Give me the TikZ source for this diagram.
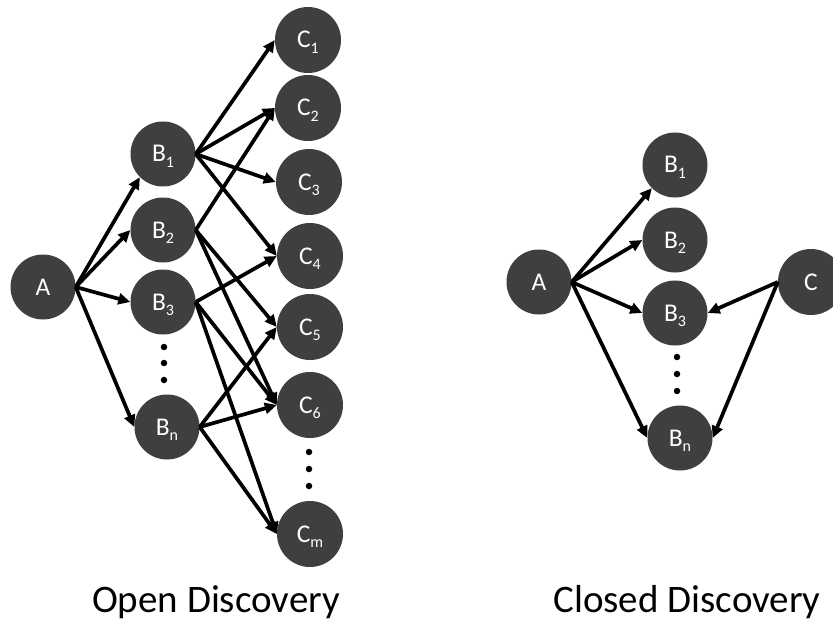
\documentclass[tikz,border=0pt]{standalone}
\usepackage{fontspec}
\setmainfont{Carlito}
\usetikzlibrary{arrows.meta}
\definecolor{nodegray}{HTML}{3F3F3F}
\newcommand{\lowsub}[1]{\raisebox{-5.5pt}{\fontsize{16}{16}\selectfont #1}}
\begin{document}
\begin{tikzpicture}[x=1pt,y=-1pt,
  vtx/.style={circle, fill=nodegray, draw=none, minimum size=65pt, inner sep=0pt,
    text=white, font=\fontsize{25.5}{30}\selectfont, text height=16pt, text depth=0pt},
  cvtx/.style={vtx, minimum size=66pt},
  arr/.style={line width=3.7pt, -{Triangle[length=12pt,width=11pt]}},
  dotmark/.style={circle, fill=black, minimum size=6.5pt, inner sep=0pt},
  title/.style={font=\fontsize{39}{44}\selectfont, anchor=base, inner sep=0pt}]
\useasboundingbox (0,0) rectangle (833,623);
\clip (0,0) rectangle (833,623);
% ---------- Open discovery ----------
\node[vtx] (A) at (43,287) {A};
\node[vtx] (B1) at (163,154) {B\lowsub{1}};
\node[vtx] (B2) at (163,230) {B\lowsub{2}};
\node[vtx] (B3) at (163,302) {B\lowsub{3}};
\node[vtx] (Bn) at (167,427) {B\lowsub{n}};
\node[cvtx] (C1) at (308,40) {C\lowsub{1}};
\node[cvtx] (C2) at (308,108) {C\lowsub{2}};
\node[cvtx] (C3) at (309,182) {C\lowsub{3}};
\node[cvtx] (C4) at (310,256) {C\lowsub{4}};
\node[cvtx] (C5) at (310,327) {C\lowsub{5}};
\node[cvtx] (C6) at (310,405) {C\lowsub{6}};
\node[cvtx] (Cm) at (310,534) {C\lowsub{m}};
\node[dotmark] (ld1) at (164,347) {};
\node[dotmark] (ld2) at (164,363) {};
\node[dotmark] (ld3) at (164,380) {};
\node[dotmark] (cd1) at (309,452) {};
\node[dotmark] (cd2) at (309,469) {};
\node[dotmark] (cd3) at (309,486) {};
\draw[arr] (A.east) -- (B1.south west);
\draw[arr] (A.east) -- (B2.west);
\draw[arr] (A.east) -- (B3.west);
\draw[arr] (A.east) -- (Bn.west);
\draw[arr] (B1.east) -- (C1.west);
\draw[arr] (B1.east) -- (C2.west);
\draw[arr] (B1.east) -- (C3.west);
\draw[arr] (B1.east) -- (C4.west);
\draw[arr] (B2.east) -- (C2.west);
\draw[arr] (B2.east) -- (C5.west);
\draw[arr] (B2.east) -- (C6.west);
\draw[arr] (B3.east) -- (C4.west);
\draw[arr] (B3.east) -- (C6.west);
\draw[arr] (B3.east) -- (Cm.west);
\draw[arr] (Bn.east) -- (C5.west);
\draw[arr] (Bn.east) -- (C6.west);
\draw[arr] (Bn.east) -- (Cm.west);
\node[title] (t1) at (216,612) {Open Discovery};
% ---------- Closed discovery ----------
\node[vtx] (RA) at (539,282) {A};
\node[vtx] (RB1) at (675,165) {B\lowsub{1}};
\node[vtx] (RB2) at (675,240) {B\lowsub{2}};
\node[vtx] (RB3) at (675,313) {B\lowsub{3}};
\node[vtx] (RBn) at (680,438) {B\lowsub{n}};
\node[cvtx] (RC) at (811,282) {C};
\node[dotmark] (rd1) at (677,357) {};
\node[dotmark] (rd2) at (677,374) {};
\node[dotmark] (rd3) at (677,391) {};
\draw[arr] (RA.east) -- (RB1.south west);
\draw[arr] (RA.east) -- (RB2.west);
\draw[arr] (RA.east) -- (RB3.west);
\draw[arr] (RA.east) -- (RBn.west);
\draw[arr] (RC.west) -- (RB3.east);
\draw[arr] (RC.west) -- (RBn.east);
\node[title] (t2) at (687,612) {Closed Discovery};
\end{tikzpicture}
\end{document}
